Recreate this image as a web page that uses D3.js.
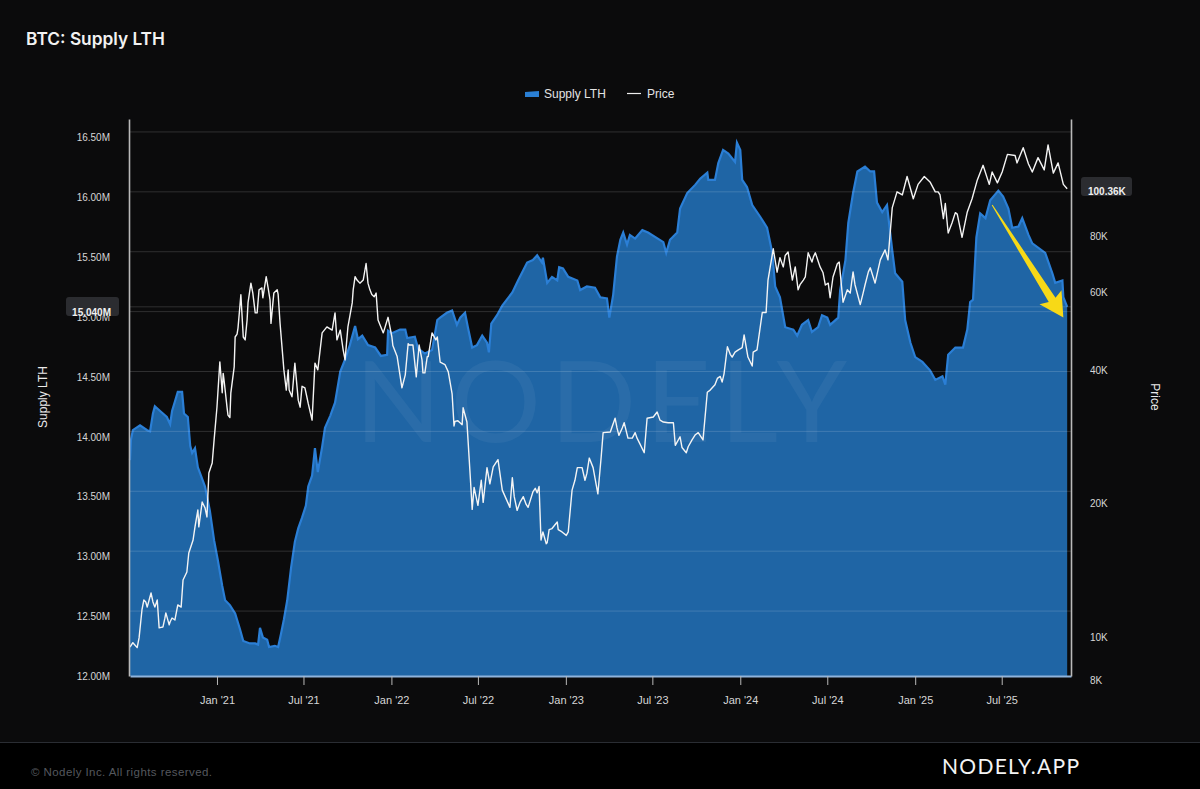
<!DOCTYPE html>
<html>
<head>
<meta charset="utf-8">
<script src="https://cdn.jsdelivr.net/npm/d3@7"></script>
<style>
    html, body { margin: 0; padding: 0; background: #0b0b0c; }
    svg { display: block; font-family: "Liberation Sans", Arial, sans-serif; }
</style>
</head>
<body>
<svg id="chart" width="1200" height="789"></svg>
<script>
// values, days are counted from the first date on the x axis
const startDate = new Date(2020, 6, 3);
const lastDay = 1969;

const supplyDays = [0,2,6,21,36,42,48,52,63,77,84,88,94,100,109,113,121,126,130,136,142,157,167,176,184,193,199,209,220,230,237,251,262,268,272,278,287,291,303,310,316,322,329,337,345,352,360,368,373,381,387,393,402,408,419,429,440,450,460,471,477,486,498,513,525,538,540,548,565,576,580,596,603,617,632,643,649,663,674,684,691,701,707,716,726,737,747,751,756,768,779,800,812,831,843,852,862,864,873,883,894,898,906,917,936,942,956,973,984,998,1003,1011,1019,1026,1032,1040,1046,1057,1072,1084,1116,1122,1130,1145,1151,1166,1183,1193,1208,1210,1224,1231,1241,1252,1266,1270,1277,1281,1291,1302,1319,1333,1344,1350,1360,1371,1388,1396,1406,1419,1427,1440,1448,1459,1465,1482,1486,1497,1503,1513,1522,1538,1549,1557,1563,1574,1584,1595,1601,1616,1622,1633,1643,1658,1674,1685,1700,1706,1712,1727,1743,1752,1758,1764,1771,1779,1790,1800,1817,1827,1838,1846,1859,1867,1880,1888,1915,1930,1936,1951,1953,1961];
const supplyValues = [13.76,13.93,14.01,14.05,14.01,14.00,14.15,14.21,14.17,14.12,14.06,14.17,14.25,14.33,14.33,14.15,14.12,13.88,13.82,13.86,13.70,13.54,13.34,13.09,12.92,12.71,12.59,12.55,12.48,12.35,12.25,12.23,12.23,12.22,12.36,12.28,12.26,12.20,12.21,12.20,12.31,12.43,12.59,12.86,13.08,13.19,13.28,13.38,13.54,13.63,13.86,13.66,13.87,14.03,14.13,14.24,14.50,14.60,14.72,14.88,14.77,14.80,14.72,14.70,14.63,14.64,14.84,14.82,14.85,14.85,14.78,14.79,14.69,14.65,14.68,14.93,14.95,14.99,15.01,14.89,14.95,14.99,14.87,14.70,14.72,14.80,14.74,14.66,14.90,14.97,15.05,15.16,15.26,15.41,15.43,15.47,15.41,15.45,15.24,15.29,15.26,15.37,15.36,15.29,15.26,15.18,15.21,15.20,15.12,15.11,14.95,15.14,15.46,15.60,15.66,15.56,15.64,15.61,15.68,15.66,15.58,15.49,15.60,15.66,15.86,15.99,16.06,16.11,16.16,16.10,16.10,16.24,16.35,16.32,16.25,16.41,16.35,16.10,16.04,15.89,15.79,15.70,15.49,15.21,15.12,14.87,14.85,14.80,14.89,14.93,14.83,14.87,14.97,14.95,14.89,14.95,15.18,15.43,15.74,15.99,16.17,16.21,16.17,16.17,15.91,15.83,15.89,15.51,15.32,15.25,14.93,14.74,14.62,14.58,14.51,14.43,14.46,14.39,14.64,14.70,14.70,14.85,15.08,15.10,15.62,15.82,15.78,15.93,16.01,15.96,15.86,15.70,15.71,15.78,15.64,15.57,15.49,15.32,15.24,15.26,15.12,15.04];

const priceDays = [0,6,15,19,25,29,36,44,48,57,61,69,75,82,88,94,100,107,111,119,123,132,136,142,144,151,157,161,165,172,176,182,188,193,197,205,211,218,220,226,232,237,245,253,257,266,270,278,285,293,295,301,308,314,322,327,331,339,345,352,360,370,381,387,393,402,412,423,429,433,440,450,456,465,471,481,488,494,502,511,519,530,540,548,559,569,576,584,592,599,605,613,622,632,640,649,666,674,678,686,697,705,712,716,720,728,735,739,747,753,760,770,779,785,795,800,810,823,833,848,856,860,873,883,894,904,917,925,936,946,952,961,969,979,986,990,1005,1015,1023,1034,1042,1061,1076,1082,1095,1103,1116,1137,1141,1151,1164,1176,1189,1199,1208,1224,1235,1243,1250,1260,1273,1285,1293,1302,1312,1323,1331,1335,1346,1354,1360,1367,1377,1386,1392,1398,1409,1419,1427,1434,1444,1455,1465,1476,1484,1492,1501,1513,1528,1538,1549,1559,1570,1580,1586,1595,1605,1616,1626,1639,1649,1662,1674,1691,1702,1712,1727,1741,1752,1762,1773,1785,1798,1804,1815,1825,1836,1852,1856,1869,1880,1888,1900,1913,1921,1932,1942,1953,1961];
const priceValues = [9300,9510,9270,9750,11270,11870,11440,12310,11750,11870,10270,10320,11100,10430,10810,10700,11570,11440,13170,13730,15150,16210,17350,18940,17350,19740,19150,18270,22960,24180,27250,32340,40860,34800,37000,31000,34800,39800,46500,48700,57900,46500,50800,61500,58400,52700,59400,57000,63600,56400,49900,58400,59400,49900,39200,35300,39200,34100,40600,33500,36000,34100,30200,40600,39200,47500,49000,48200,52700,45800,48200,41300,49000,55500,63600,61500,62500,68100,59400,57300,50800,47500,51500,46500,42000,35700,38200,44600,44600,37800,44600,38600,42000,47500,45800,40800,38800,34600,29300,30100,32200,29900,22500,19000,21300,19400,22100,19700,23600,21700,23700,24600,21000,20300,19200,22400,18900,20300,19200,21200,21400,16200,16000,17200,17800,16900,16900,21000,23600,23600,22100,24800,23600,20600,25000,28300,28400,30500,27900,29800,27500,27500,25500,30500,30700,31500,29900,29800,26500,27700,25500,27250,28300,27250,34900,36300,37900,38400,44200,41900,43500,47000,41900,40000,43500,52800,52800,62500,73500,65100,70200,66900,72300,62500,66900,59400,62500,72000,68600,72000,66900,60900,57000,65900,68600,55700,59400,65200,55000,60900,66600,61500,69400,73100,69400,91000,98800,97200,107000,95300,102700,107000,104000,98800,86000,79800,88700,78000,89000,95300,105100,113400,102700,109500,103500,109500,120000,119300,114800,124200,114200,109500,118000,110700,126100,108900,114800,102700,100360];

const priceDetailDays = [33,52,65,73,84,195,203,209,224,241,247,262,276,289,299,310,333,356,366,373,446,467,475,498,506,515,550,582,611,617,624,643,659,680,695,804,816,829,843,852,864,871,877,896,913,931,956,1019,1030,1051,1057,1067,1109,1126,1155,1168,1183,1214,1229,1239,1256,1266,1281,1304,1371,1402,1413,1430,1450,1461,1471,1480,1507,1517,1534,1545,1685,1695,1706,1720,1731];
const priceDetailValues = [11750,11440,10300,10800,10600,38500,32300,30600,47200,45800,55600,52700,60000,60000,55500,58000,35300,32300,35700,32900,43500,59400,62500,61500,58000,58400,44500,44900,41300,38600,42000,46500,40300,30000,29500,20300,19700,19500,20800,20700,16900,15900,17100,17100,16600,22100,22900,29000,29000,27500,28300,26700,30200,29800,26200,26300,28000,35300,37500,36800,42500,43000,44000,43000,71000,61000,63500,70500,65000,61500,63500,68000,58400,61000,58400,65200,98800,97200,93000,84000,88000];

const supplyTicks = [12, 12.5, 13, 13.5, 14, 14.5, 15, 15.5, 16, 16.5];
const priceTicks = [8000, 10000, 20000, 40000, 60000, 80000];
const lastSupply = 15.04;
const lastPrice = 100360;

const supplyData = supplyDays.map((d, i) => ({ day: d, value: supplyValues[i] }));
const priceData = priceDays.map((d, i) => ({ day: d, value: priceValues[i] }))
    .concat(priceDetailDays.map((d, i) => ({ day: d, value: priceDetailValues[i] })))
    .sort((a, b) => a.day - b.day);

const plotLeft = 130, plotRight = 1071, plotTop = 119, plotBottom = 676;

const svg = d3.select('#chart');
const date = (d) => d3.timeDay.offset(startDate, d);

const x = d3.scaleTime().domain([startDate, date(lastDay)]).range([plotLeft, plotRight]);
const ySupply = d3.scaleLinear().domain([11.958, 16.608]).range([plotBottom, plotTop]);
const yPrice = d3.scaleLog().domain([8000, 144200]).range([plotBottom, plotTop]);

// background and footer
svg.append('rect').attr('width', 1200).attr('height', 789).attr('fill', '#0b0b0c');
svg.append('rect').attr('y', 742).attr('width', 1200).attr('height', 47).attr('fill', '#000');
svg.append('line').attr('x1', 0).attr('x2', 1200).attr('y1', 742.5).attr('y2', 742.5).attr('stroke', '#2a2d33');

svg.append('text').attr('x', 26).attr('y', 45).attr('fill', '#f2f2f2')
    .attr('font-family', 'Inter, sans-serif')
    .attr('font-size', 17.3).attr('font-weight', 600).text('BTC: Supply LTH');

// legend
svg.append('path').attr('d', 'M525 92L539 91L539 97L525 97Z').attr('fill', '#2a7fd4');
svg.append('text').attr('x', 544).attr('y', 98).attr('fill', '#e4e4e4').attr('font-size', 12).text('Supply LTH');
svg.append('line').attr('x1', 627).attr('x2', 641).attr('y1', 93.5).attr('y2', 93.5).attr('stroke', '#eee').attr('stroke-width', 1.2);
svg.append('text').attr('x', 647).attr('y', 98).attr('fill', '#e4e4e4').attr('font-size', 12).text('Price');

// area and its top edge
const area = d3.area()
    .x((d) => x(date(d.day)))
    .y0(plotBottom)
    .y1((d) => ySupply(d.value));
const supplyLine = d3.line()
    .x((d) => x(date(d.day)))
    .y((d) => ySupply(d.value));
const priceLine = d3.line()
    .x((d) => x(date(d.day)))
    .y((d) => yPrice(d.value));

svg.append('path').datum(supplyData).attr('d', area).attr('fill', '#1f65a5');
svg.append('path').datum(supplyData).attr('d', supplyLine)
    .attr('fill', 'none').attr('stroke', '#2b7fd6').attr('stroke-width', 2.2);

// grid lines sit over the area
svg.append('g').selectAll('line')
    .data(supplyTicks.filter((t) => t > 12).concat([lastSupply]))
    .join('line')
    .attr('x1', plotLeft).attr('x2', plotRight)
    .attr('y1', (d) => ySupply(d)).attr('y2', (d) => ySupply(d))
    .attr('stroke', '#fff').attr('stroke-opacity', 0.15).attr('stroke-width', 1);

// watermark
svg.append('text').attr('x', 355).attr('y', 442)
    .attr('fill', '#fff').attr('fill-opacity', 0.05)
    .attr('font-family', 'Lato, Inter, sans-serif').attr('font-weight', 400)
    .attr('font-size', 113).attr('textLength', 492).attr('lengthAdjust', 'spacing')
    .text('NODELY');

svg.append('path').datum(priceData).attr('d', priceLine)
    .attr('fill', 'none').attr('stroke', '#f4f4f4').attr('stroke-width', 1.4).attr('stroke-linejoin', 'round');

// axes
const xAxis = d3.axisBottom(x)
    .ticks(d3.timeMonth.every(6))
    .tickFormat(d3.timeFormat("%b '%y"))
    .tickSize(9).tickSizeOuter(0);
const supplyFormat = (d) => d3.format('.2f')(d) + 'M';
const priceFormat = (d) => (d / 1000) + 'K';

const xG = svg.append('g').attr('transform', `translate(0,${plotBottom})`).call(xAxis);
const leftG = svg.append('g').attr('transform', `translate(${plotLeft - 1},0)`)
    .call(d3.axisLeft(ySupply).tickValues(supplyTicks).tickFormat(supplyFormat).tickSize(0).tickPadding(19));
const rightG = svg.append('g').attr('transform', `translate(${plotRight},0)`)
    .call(d3.axisRight(yPrice).tickValues(priceTicks).tickFormat(priceFormat).tickSize(0).tickPadding(19));

[xG, leftG, rightG].forEach((g) => {
    g.attr('font-family', null).attr('font-size', null);
    g.selectAll('text').attr('fill', '#d6d6d6').attr('font-size', 10);
    g.select('.domain').attr('stroke', '#b9b9b9').attr('stroke-width', 1.6);
    g.selectAll('.tick line').attr('stroke', '#b9b9b9');
});
xG.select('.domain').attr('stroke', '#8fb4dc').attr('stroke-width', 2);
xG.selectAll('text').attr('font-size', 11).attr('dy', '1.45em');
leftG.selectAll('text').attr('dy', '0.86em');
rightG.selectAll('text').attr('dy', '0.71em');

// axis titles
svg.append('text').attr('transform', 'translate(47,397) rotate(-90)').attr('text-anchor', 'middle')
    .attr('fill', '#eaeaea').attr('font-size', 12).text('Supply LTH');
svg.append('text').attr('transform', 'translate(1151,397) rotate(90)').attr('text-anchor', 'middle')
    .attr('fill', '#eaeaea').attr('font-size', 12).text('Price');

// last value badges
svg.append('rect').attr('x', 66).attr('y', 297).attr('width', 53).attr('height', 19).attr('rx', 3).attr('fill', '#2b2c30');
svg.append('text').attr('x', 111).attr('y', 316).attr('text-anchor', 'end').attr('fill', '#f0f0f0')
    .attr('font-size', 10).attr('font-weight', 700).text(lastSupply.toFixed(3) + 'M');
svg.append('rect').attr('x', 1081).attr('y', 177).attr('width', 51).attr('height', 19).attr('rx', 3).attr('fill', '#2b2c30');
svg.append('text').attr('x', 1088).attr('y', 195).attr('fill', '#f0f0f0')
    .attr('font-size', 10).attr('font-weight', 700).text((lastPrice / 1000).toFixed(2) + 'K');

// yellow arrow, anchored on the chart's own scales
const tail = [x(date(1804)), ySupply(15.89)];
const tip = [x(date(1953)), ySupply(14.95)];
const ang = Math.atan2(tip[1] - tail[1], tip[0] - tail[0]);
const off = (p, along, across) => [
    p[0] + along * Math.cos(ang) - across * Math.sin(ang),
    p[1] + along * Math.sin(ang) + across * Math.cos(ang),
];
const headLen = 24;
svg.append('path')
    .attr('d', d3.line()([
        off(tail, 0, -0.5), off(tip, -headLen + 3, -4), off(tip, -headLen, -13),
        tip,
        off(tip, -headLen, 13), off(tip, -headLen + 3, 4), off(tail, 0, 0.5),
    ]) + 'Z')
    .attr('fill', '#f7d917');

// footer text
svg.append('text').attr('x', 31).attr('y', 776).attr('fill', '#55585e')
    .attr('font-size', 11.5).attr('textLength', 181).text('© Nodely Inc. All rights reserved.');
svg.append('text').attr('x', 942).attr('y', 773.5).attr('fill', '#f4f4f4')
    .attr('font-family', 'Lato, Inter, sans-serif').attr('font-weight', 400)
    .attr('font-size', 21).attr('textLength', 137).attr('lengthAdjust', 'spacing').text('NODELY.APP');
</script>
</body>
</html>
